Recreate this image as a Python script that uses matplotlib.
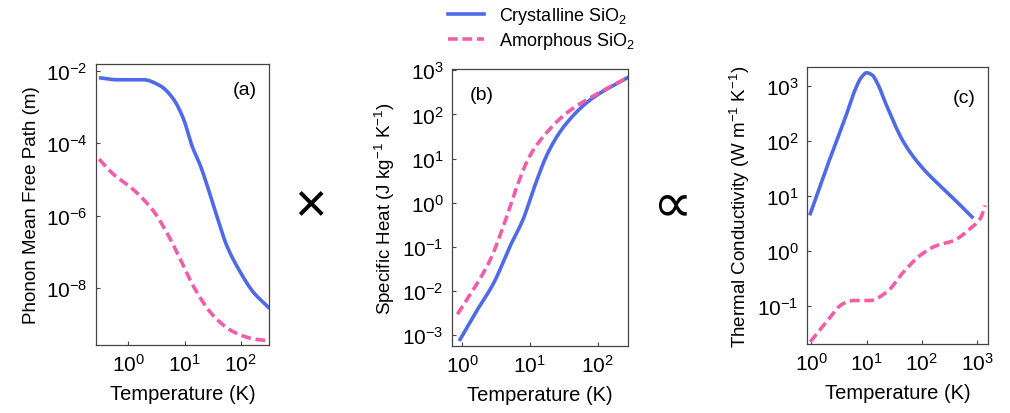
import numpy as np
import matplotlib.pyplot as plt

plt.rcParams['font.family'] = ['Liberation Sans', 'DejaVu Sans']
plt.rcParams['mathtext.fontset'] = 'custom'
plt.rcParams['mathtext.rm'] = 'Liberation Sans'
plt.rcParams['mathtext.it'] = 'Liberation Sans:italic'
plt.rcParams['mathtext.bf'] = 'Liberation Sans:bold'
plt.rcParams['axes.unicode_minus'] = False

blue = '#4f6ae6'
pink = '#f25ca8'

# (a) phonon mean free path, log10 values
a_cry_logT = [-0.49, -0.2, 0.1, 0.27, 0.56, 0.8, 0.98, 1.13, 1.28, 1.42, 1.57, 1.75, 1.99, 2.22, 2.49]
a_cry_logL = [-2.2, -2.25, -2.25, -2.25, -2.41, -2.78, -3.33, -4.07, -4.62, -5.26, -6.0, -6.83, -7.56, -8.11, -8.53]
a_am_logT = [-0.52, -0.27, 0.08, 0.44, 0.68, 0.92, 1.15, 1.51, 1.86, 2.22, 2.46]
a_am_logL = [-4.44, -4.85, -5.27, -5.86, -6.46, -7.19, -7.93, -8.76, -9.2, -9.4, -9.45]

# (b) specific heat
b_cry_logT = [-0.03, 0.2, 0.47, 0.71, 0.9, 1.07, 1.27, 1.51, 1.9, 2.45]
b_cry_logC = [-3.1, -2.49, -1.81, -0.98, -0.38, 0.37, 1.14, 1.74, 2.34, 2.84]
b_am_logT = [-0.07, 0.17, 0.42, 0.61, 0.81, 1.0, 1.25, 1.55, 1.94, 2.45]
b_am_logC = [-2.53, -1.96, -1.28, -0.53, 0.37, 1.06, 1.59, 2.04, 2.42, 2.84]

# (c) thermal conductivity
c_cry_logT = [-0.02, 0.27, 0.63, 0.8, 0.9, 1.0, 1.1, 1.2, 1.36, 1.67, 1.97, 2.58, 2.91]
c_cry_logk = [0.68, 1.5, 2.47, 2.95, 3.15, 3.24, 3.2, 3.04, 2.65, 1.98, 1.56, 0.95, 0.62]
c_am_logT = [-0.02, 0.27, 0.57, 0.76, 1.06, 1.36, 1.67, 1.97, 2.27, 2.58, 2.88, 3.06, 3.15]
c_am_logk = [-1.65, -1.29, -0.96, -0.9, -0.9, -0.75, -0.38, -0.08, 0.1, 0.19, 0.41, 0.59, 0.83]


def smooth(lx, ly, n=200):
    # monotone cubic through the read points (in log space)
    lx = np.asarray(lx, float)
    ly = np.asarray(ly, float)
    t = np.linspace(lx[0], lx[-1], n)
    h = np.diff(lx)
    d = np.diff(ly) / h
    m = np.zeros_like(lx)
    m[0], m[-1] = d[0], d[-1]
    for i in range(1, len(lx) - 1):
        if d[i - 1] * d[i] <= 0:
            m[i] = 0
        else:
            w1, w2 = 2 * h[i] + h[i - 1], h[i] + 2 * h[i - 1]
            m[i] = (w1 + w2) / (w1 / d[i - 1] + w2 / d[i])
    idx = np.clip(np.searchsorted(lx, t) - 1, 0, len(lx) - 2)
    s = (t - lx[idx]) / h[idx]
    h00 = 2 * s**3 - 3 * s**2 + 1
    h10 = s**3 - 2 * s**2 + s
    h01 = -2 * s**3 + 3 * s**2
    h11 = s**3 - s**2
    y = h00 * ly[idx] + h10 * h[idx] * m[idx] + h01 * ly[idx + 1] + h11 * h[idx] * m[idx + 1]
    return 10**t, 10**y


fig = plt.figure(figsize=(10.1, 4.14), dpi=100)
W, H = 1010, 414


def add_ax(x0, y0, x1, y1):
    return fig.add_axes([x0 / W, 1 - y1 / H, (x1 - x0) / W, (y1 - y0) / H])


axa = add_ax(96, 65, 269, 346)
axb = add_ax(452, 70, 628, 347)
axc = add_ax(807, 68, 988, 345)

lw = 2.6
for ax, cx, cy, ax_, ay in [
    (axa, a_cry_logT, a_cry_logL, a_am_logT, a_am_logL),
    (axb, b_cry_logT, b_cry_logC, b_am_logT, b_am_logC),
    (axc, c_cry_logT, c_cry_logk, c_am_logT, c_am_logk),
]:
    x, y = smooth(cx, cy)
    l1, = ax.plot(x, y, color=blue, lw=lw, label='Crystalline SiO$_2$')
    x, y = smooth(ax_, ay)
    l2, = ax.plot(x, y, color=pink, lw=lw, ls=(0, (2.7, 1.3)), label='Amorphous SiO$_2$')
    ax.set_xscale('log')
    ax.set_yscale('log')
    ax.minorticks_off()
    ax.tick_params(labelsize=15, length=3, width=0.8, color='#444444', direction='in', pad=6)
    for s in ax.spines.values():
        s.set_color('#444444')
        s.set_linewidth(0.9)
    ax.set_xlabel('Temperature (K)', fontsize=14.5, labelpad=6)

axa.set_xlim(10**-0.575, 10**2.5)
axa.set_ylim(10**-9.57, 10**-1.815)
axa.set_xticks([1, 10, 100])
axa.set_yticks([1e-2, 1e-4, 1e-6, 1e-8])
axa.set_ylabel('Phonon Mean Free Path (m)', fontsize=13.5)
axa.text(0.93, 0.94, '(a)', transform=axa.transAxes, ha='right', va='top', fontsize=14)

axb.set_xlim(10**-0.15, 10**2.45)
axb.set_ylim(10**-3.25, 10**3.03)
axb.set_xticks([1, 10, 100])
axb.set_yticks([1e-3, 1e-2, 1e-1, 1, 10, 100, 1000])
axb.set_ylabel('Specific Heat (J kg$^{-1}$ K$^{-1}$)', fontsize=13.5)
axb.text(0.1, 0.94, '(b)', transform=axb.transAxes, ha='left', va='top', fontsize=14)

axc.set_xlim(10**-0.08, 10**3.2)
axc.set_ylim(10**-1.69, 10**3.345)
axc.set_xticks([1, 10, 100, 1000])
axc.set_yticks([1e-1, 1, 10, 100, 1000])
axc.set_ylabel('Thermal Conductivity (W m$^{-1}$ K$^{-1}$)', fontsize=13.5)
axc.text(0.93, 0.92, '(c)', transform=axc.transAxes, ha='right', va='top', fontsize=14)

fig.legend(handles=[l1, l2], loc='upper left', bbox_to_anchor=(432 / W, 1.025),
           frameon=False, fontsize=13, handlelength=2.0, handletextpad=0.8,
           labelspacing=0.25)

fig.text(310 / W, 1 - 207 / H, '\u00d7', fontsize=40, ha='center', va='center')
fig.text(672 / W, 1 - 207 / H, '\u221d', fontsize=40, ha='center', va='center')

fig.savefig('out.png', dpi=100)
